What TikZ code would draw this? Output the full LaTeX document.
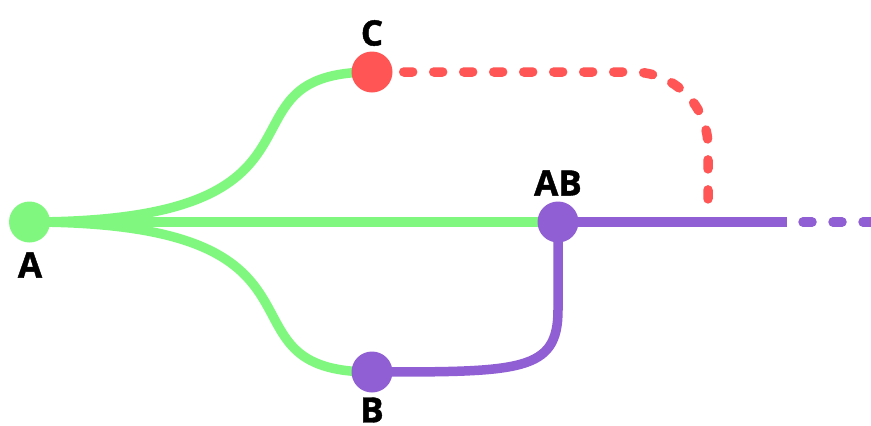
\documentclass[tikz,border=0pt]{standalone}
\usepackage{fontspec}
\setmainfont{Open Sans}[BoldFeatures={FakeBold=1.2}]
\definecolor{cgreen}{RGB}{128,248,128}
\definecolor{cred}{RGB}{255,85,85}
\definecolor{cpurple}{RGB}{143,95,211}
\pgfdeclarelayer{bg}
\pgfsetlayers{bg,main}
\begin{document}
\begin{tikzpicture}[x=1pt,y=-1pt,
  dot/.style={circle,inner sep=0pt,minimum size=41pt},
  lbl/.style={font=\fontsize{35}{35}\selectfont\bfseries,inner sep=0pt},
  wire/.style={line width=9.5pt},
  dashwire/.style={line width=9.5pt,line cap=round,dash pattern=on 9pt off 21pt}]
\useasboundingbox (0,0) rectangle (871,426);
\node[dot,fill=cgreen] (A) at (29.5,222) {};
\node[dot,fill=cred] (C) at (372,72) {};
\node[dot,fill=cpurple] (AB) at (558,222) {};
\node[dot,fill=cpurple] (B) at (372,372) {};
\node[lbl] (lA) at (30,265) {A};
\node[lbl] (lC) at (372,33) {C};
\node[lbl] (lAB) at (558,183) {AB};
\node[lbl] (lB) at (372,410) {B};
\coordinate (pe) at (787,222);
\coordinate (ds) at (803,222);
\coordinate (de) at (885,222);
\coordinate (rc) at (708,72);
\coordinate (re) at (708,203);
\begin{pgfonlayer}{bg}
\draw[wire,cgreen] (A.center) -- (AB.center);
\draw[wire,cgreen] (A.center) .. controls (360,222) and (205,72) .. (C.center);
\draw[wire,cgreen] (A.center) .. controls (360,222) and (205,372) .. (B.center);
\draw[wire,cpurple] (B.center) .. controls (520,372) and (558,372) .. (558,310) -- (AB.center);
\draw[wire,cpurple] (AB.center) -- (pe);
\draw[dashwire,cpurple] (ds) -- (de);
\draw[dashwire,cred,dash phase=19pt,rounded corners=75pt] (C.east) -- (rc) -- (re);
\end{pgfonlayer}
\end{tikzpicture}
\end{document}
